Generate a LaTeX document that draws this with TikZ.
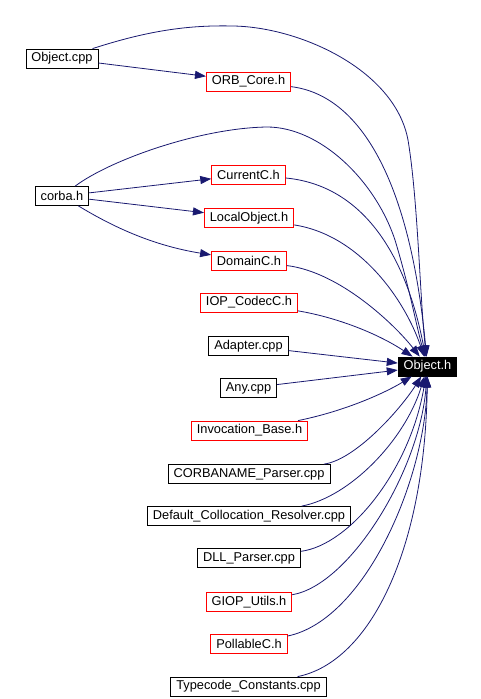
\documentclass[tikz,border=0pt]{standalone}
\usepackage{fontspec}
\setmainfont{Liberation Sans}
\usepackage{xcolor}
\usepackage{tikz}
\usetikzlibrary{arrows.meta}
\definecolor{edgeblue}{HTML}{191970}
\tikzset{
  filenode/.style={rectangle,draw=black,line width=0.8pt,fill=white,minimum height=19pt,inner xsep=5.5pt,inner ysep=0pt,font=\fontsize{12.8}{14}\selectfont},
  rednode/.style={filenode,draw=red},
  rootnode/.style={filenode,fill=black,text=white},
  depedge/.style={-{Triangle[length=11pt,width=8pt]},line width=0.8pt,edgeblue},
}

\begin{document}
\begin{tikzpicture}[x=1pt,y=-1pt]
  \useasboundingbox (0,0) rectangle (481,699);
  \node[filenode] (nObjectCpp) at (62,58.5) {Object.cpp};
  \node[rednode] (nORBCore) at (248.5,81.5) {ORB\_Core.h};
  \node[filenode] (ncorba) at (62,196) {corba.h};
  \node[rednode] (nCurrentC) at (248.5,174.5) {CurrentC.h};
  \node[rednode] (nLocalObject) at (249,218) {LocalObject.h};
  \node[rednode] (nDomainC) at (249,261) {DomainC.h};
  \node[rednode] (nIOPCodecC) at (249,302.5) {IOP\_CodecC.h};
  \node[filenode] (nAdapter) at (248.5,346) {Adapter.cpp};
  \node[filenode] (nAny) at (248.5,388) {Any.cpp};
  \node[rednode] (nInvocationBase) at (249.5,430.5) {Invocation\_Base.h};
  \node[filenode] (nCORBANAME) at (249,474) {CORBANAME\_Parser.cpp};
  \node[filenode] (nDefaultColl) at (249,516) {Default\_Collocation\_Resolver.cpp};
  \node[filenode] (nDLLParser) at (249,558) {DLL\_Parser.cpp};
  \node[rednode] (nGIOPUtils) at (249,602) {GIOP\_Utils.h};
  \node[rednode] (nPollableC) at (249,644) {PollableC.h};
  \node[filenode] (nTypecode) at (248.5,686.5) {Typecode\_Constants.cpp};
  \node[rootnode] (nObjectH) at (427.5,366.5) {Object.h};
  % includes on the left
  \draw[depedge] (nObjectCpp) -- (nORBCore);
  \draw[depedge] (ncorba) -- (nCurrentC);
  \draw[depedge] (ncorba) -- (nLocalObject);
  \draw[depedge] (ncorba) .. controls (110,225) and (150,245) .. (nDomainC);
  % everything into Object.h
  \draw[depedge] (nObjectCpp) .. controls (150,30) and (190,25) .. (233,26)
    .. controls (300,27) and (395,70) .. (408,140)
    .. controls (418,200) and (420,300) .. (nObjectH);
  \draw[depedge] (nORBCore) .. controls (360,95) and (410,180) .. (nObjectH);
  \draw[depedge] (ncorba) .. controls (110,160) and (200,128) .. (267,127)
    .. controls (320,127) and (375,180) .. (395,240)
    .. controls (410,290) and (415,320) .. (nObjectH);
  \draw[depedge] (nCurrentC) .. controls (360,185) and (405,250) .. (nObjectH);
  \draw[depedge] (nLocalObject) .. controls (360,235) and (405,300) .. (nObjectH);
  \draw[depedge] (nDomainC) .. controls (340,272) and (395,325) .. (nObjectH);
  \draw[depedge] (nIOPCodecC) .. controls (340,318) and (380,335) .. (nObjectH);
  \draw[depedge] (nAdapter) -- (nObjectH);
  \draw[depedge] (nAny) -- (nObjectH);
  \draw[depedge] (nInvocationBase) .. controls (350,410) and (390,390) .. (nObjectH);
  \draw[depedge] (nCORBANAME) .. controls (355,460) and (400,410) .. (nObjectH);
  \draw[depedge] (nDefaultColl) .. controls (350,497) and (405,440) .. (nObjectH);
  \draw[depedge] (nDLLParser) .. controls (350,545) and (410,470) .. (nObjectH);
  \draw[depedge] (nGIOPUtils) .. controls (350,585) and (420,470) .. (nObjectH);
  \draw[depedge] (nPollableC) .. controls (365,620) and (425,480) .. (nObjectH);
  \draw[depedge] (nTypecode) .. controls (370,662) and (425,550) .. (nObjectH);
\end{tikzpicture}
\end{document}
